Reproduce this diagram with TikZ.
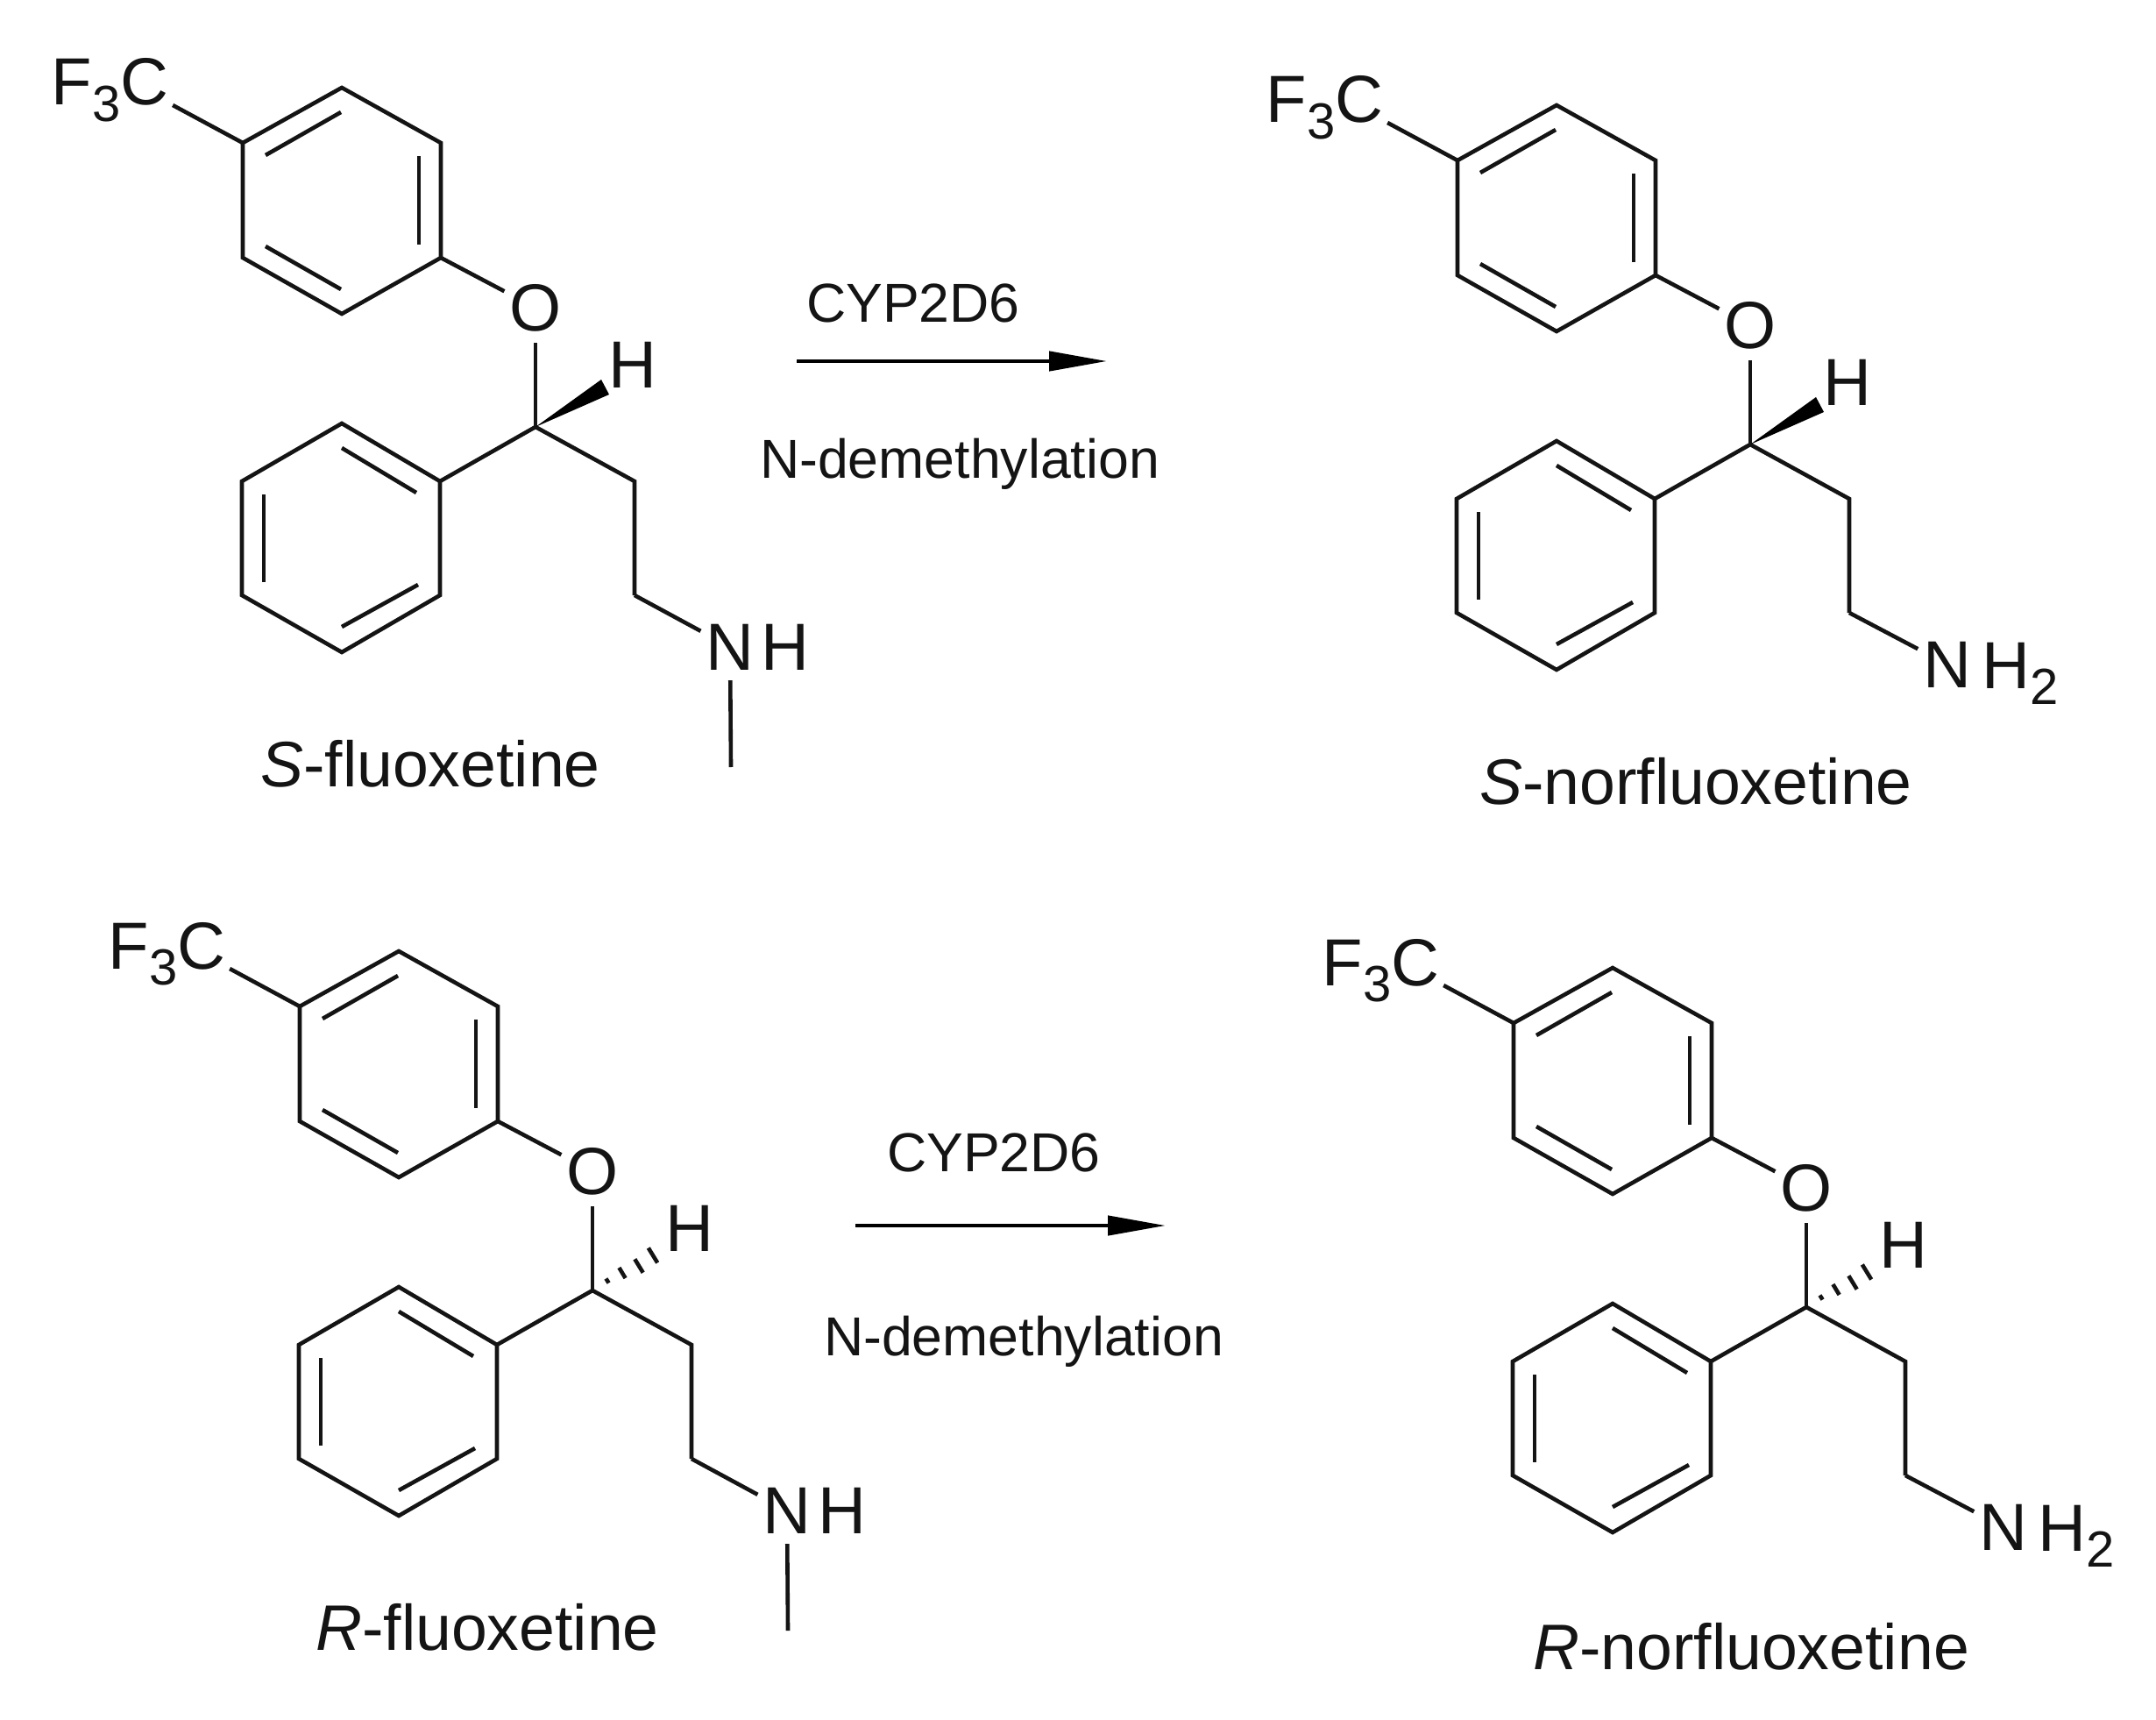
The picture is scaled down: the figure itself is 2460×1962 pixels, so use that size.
\documentclass[tikz,border=0pt]{standalone}
\usepackage{fontspec}
\setmainfont{Liberation Sans}
\usetikzlibrary{arrows.meta}
\tikzset{
  bond/.style={line width=2.3pt,color=black!92,line cap=butt,line join=miter},
  atom/.style={font=\fontsize{38}{38}\selectfont,inner sep=0pt,text=black!92},
  hetero/.style={atom,circle,minimum size=#1},
  molname/.style={font=\fontsize{36.7}{36.7}\selectfont,inner sep=0pt,anchor=base,text=black!92},
  reagent/.style={font=\fontsize{31.3}{31.3}\selectfont,inner sep=0pt,anchor=base,text=black!92},
  rxnarrow/.style={line width=2.2pt,color=black,-{Triangle[length=33pt,width=11pt]}},
  hashbar/.style={line width=2.3pt,color=black!92}
}
\newcommand{\subdigit}[1]{\raisebox{-.24em}{\fontsize{29}{29}\selectfont #1}}
% skeleton shared by all four molecules
\newcommand{\fluoxcore}[6]{%
  \coordinate (#1a1) at (390,100);
  \coordinate (#1a2) at (503,163);
  \coordinate (#1a3) at (503,294);
  \coordinate (#1a4) at (390,358);
  \coordinate (#1a5) at (277,294);
  \coordinate (#1a6) at (277,163);
  \coordinate (#1b1) at (390,483);
  \coordinate (#1b2) at (502,549);
  \coordinate (#1b3) at (502,679);
  \coordinate (#1b4) at (390,744);
  \coordinate (#1b5) at (276,679);
  \coordinate (#1b6) at (276,549);
  \coordinate (#1c) at (611,487);
  \coordinate (#1d) at (724,549);
  \coordinate (#1e) at (724,679);
  \node[atom,anchor=base west,inner sep=2.2pt] (#1cf) at (54,120) {F\subdigit{3}C};
  \node[hetero=76*0.5pt] (#1o) at (611,351) {O};
  \node[atom] (#1h) at (722,416) {H};
  \draw[bond] (#1a1) -- (#1a2) -- (#1a3) -- (#1a4) -- (#1a5) -- (#1a6) -- cycle;
  \draw[bond] (#1b1) -- (#1b2) -- (#1b3) -- (#1b4) -- (#1b5) -- (#1b6) -- cycle;
  \draw[bond] (#1a6) -- (#1cf.base east);
  \draw[bond] (#1a3) -- (#1o);
  \draw[bond] (#1o) -- (#1c);
  \draw[bond] (#1b2) -- (#1c) -- (#1d) -- (#1e);
  \draw[bond] (303,177) -- (389,128);
  \draw[bond] (478,178) -- (478,279);
  \draw[bond] (303,281) -- (389,330);
  \draw[bond] (390,511) -- (475,562);
  \draw[bond] (301,564) -- (301,664);
  \draw[bond] (390,715) -- (477,667);
  #2
  #3
  \node[molname] (#1name) at (#5,#6) {#4};
}
\newcommand{\solidstereo}[1]{%
  \coordinate (#1w1) at (686,433);
  \coordinate (#1w2) at (695,450);
  \fill[black] (#1c) -- (#1w1) -- (#1w2) -- cycle;
}
\newcommand{\hashstereo}[1]{%
  \draw[hashbar] (626.4,473.5) -- (629.6,478.5);
  \draw[hashbar] (641.4,461.0) -- (648.6,473.0);
  \draw[hashbar] (659.3,451.3) -- (668.7,466.7);
  \draw[hashbar] (674.8,438.5) -- (685.2,455.5);
}
\newcommand{\secamine}[1]{%
  \node[hetero=68*0.5pt] (#1n) at (833,738) {N};
  \node[atom] (#1nh) at (896,738) {H};
  \coordinate (#1me) at (834,875);
  \draw[bond] (#1e) -- (#1n);
  \draw[bond] (#1n) -- (#1me);
}
\newcommand{\primamine}[1]{%
  \node[hetero=68*0.5pt] (#1n) at (836,738) {N};
  \node[atom,anchor=base west] (#1nh) at (875,765) {H\subdigit{2}};
  \draw[bond] (#1e) -- (#1n);
}
\begin{document}
\begin{tikzpicture}[x=0.5pt,y=-0.5pt]
\useasboundingbox (0,0) rectangle (2460,1962);
\fill[white] (0,0) rectangle (2460,1962);
\begin{scope}[shift={(0,0)}]
  \fluoxcore{p}{\solidstereo{p}}{\secamine{p}}{\textit{S}-fluoxetine}{491}{897}
\end{scope}
\begin{scope}[shift={(1386,20)}]
  \fluoxcore{q}{\solidstereo{q}}{\primamine{q}}{\textit{S}-norfluoxetine}{549}{897}
\end{scope}
\begin{scope}[shift={(65,985)}]
  \fluoxcore{r}{\hashstereo{r}}{\secamine{r}}{\textit{R}-fluoxetine}{491}{897}
\end{scope}
\begin{scope}[shift={(1450,1004)}]
  \fluoxcore{s}{\hashstereo{s}}{\primamine{s}}{\textit{R}-norfluoxetine}{548}{900}
\end{scope}
\coordinate (arr1s) at (909,412);
\coordinate (arr1e) at (1263,412);
\draw[rxnarrow] (arr1s) -- (arr1e);
\node[reagent] (cyp1) at (1042,368) {CYP2D6};
\node[reagent] (dem1) at (1095,546) {N-demethylation};
\coordinate (arr2s) at (976,1398);
\coordinate (arr2e) at (1330,1398);
\draw[rxnarrow] (arr2s) -- (arr2e);
\node[reagent] (cyp2) at (1134,1336) {CYP2D6};
\node[reagent] (dem2) at (1168,1546) {N-demethylation};
\end{tikzpicture}
\end{document}
